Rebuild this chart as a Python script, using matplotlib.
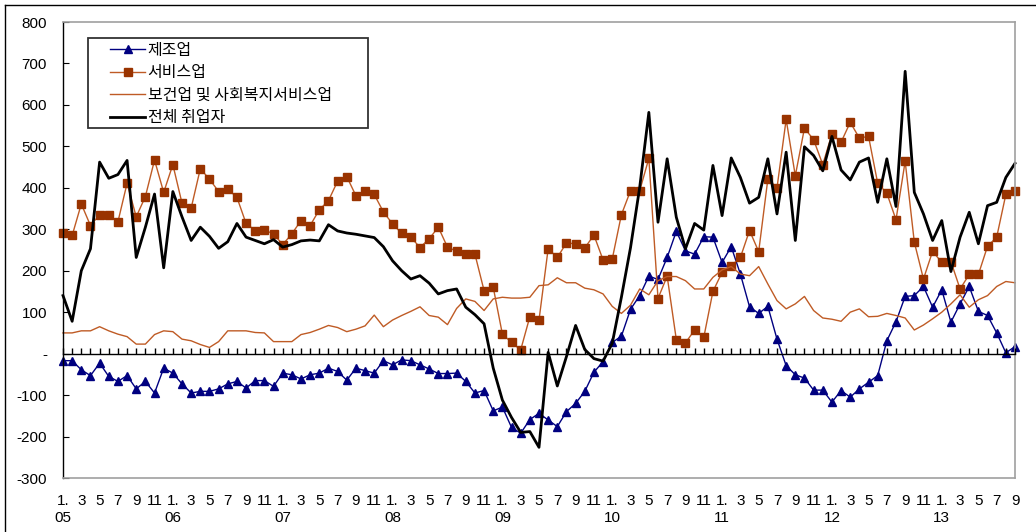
import matplotlib
matplotlib.use("Agg")
import matplotlib.pyplot as plt
from matplotlib.lines import Line2D
from matplotlib.patches import Rectangle

plt.rcParams['font.family'] = ['Liberation Sans', 'Noto Sans CJK KR', 'DejaVu Sans']

# monthly, Jan 2005 .. Sep 2013 (change vs. a year earlier, thousand persons)
years = ["05", "06", "07", "08", "09", "10", "11", "12", "13"]

manufacturing = [
    -17, -17, -39, -53, -23, -55, -67, -53, -85, -67, -95, -35,
    -47, -73, -95, -91, -91, -85, -73, -67, -83, -65, -65, -79,
    -47, -51, -61, -51, -47, -35, -43, -64, -35, -41, -47, -17,
    -27, -15, -17, -27, -37, -48, -48, -47, -67, -95, -89, -138,
    -129, -178, -192, -159, -144, -160, -176, -140, -120, -91, -45, -19,
    27, 42, 107, 140, 187, 179, 232, 295, 248, 240, 282, 281,
    220, 258, 192, 113, 97, 114, 35, -29, -51, -59, -88, -88,
    -117, -89, -105, -85, -69, -53, 31, 77, 138, 140, 162, 112,
    154, 76, 120, 162, 102, 92, 50, 2, 17,
]
services = [
    290, 285, 361, 309, 335, 335, 318, 411, 330, 379, 467, 389,
    456, 363, 351, 446, 421, 391, 397, 377, 314, 297, 298, 289,
    263, 289, 321, 309, 347, 369, 416, 427, 381, 392, 384, 342,
    313, 290, 281, 256, 277, 305, 257, 247, 240, 240, 152, 160,
    47, 27, 9, 89, 81, 253, 232, 267, 265, 255, 286, 226,
    228, 335, 393, 393, 471, 133, 187, 34, 26, 57, 39, 150,
    196, 212, 232, 297, 246, 421, 400, 565, 429, 544, 516, 456,
    530, 510, 558, 520, 524, 411, 387, 323, 464, 269, 180, 247,
    220, 222, 156, 191, 191, 259, 281, 384, 393,
]
health = [
    50, 50, 55, 55, 65, 55, 47, 41, 23, 23, 46, 55,
    53, 35, 31, 22, 15, 29, 55, 55, 55, 51, 50, 29,
    29, 29, 46, 51, 59, 68, 63, 53, 59, 67, 93, 65,
    81, 92, 102, 113, 92, 88, 70, 109, 132, 126, 104, 132,
    136, 134, 134, 136, 164, 166, 183, 171, 171, 158, 154, 144,
    114, 97, 117, 156, 142, 176, 186, 186, 176, 156, 156, 184,
    202, 210, 192, 188, 210, 168, 128, 108, 120, 138, 104, 86,
    83, 78, 100, 108, 89, 90, 97, 92, 86, 57, 69, 84,
    100, 120, 142, 112, 130, 140, 162, 174, 171,
]
total = [
    140, 78, 200, 253, 462, 423, 432, 466, 232, 305, 385, 207,
    391, 330, 273, 305, 283, 254, 270, 314, 281, 273, 265, 275,
    257, 263, 272, 274, 272, 311, 296, 291, 288, 284, 280, 258,
    224, 200, 180, 188, 170, 144, 152, 156, 112, 94, 72, -35,
    -112, -154, -190, -188, -226, 3, -78, -7, 68, 10, -12, -18,
    25, 136, 256, 401, 582, 317, 470, 329, 253, 314, 298, 454,
    333, 472, 425, 363, 377, 470, 337, 486, 273, 499, 478, 441,
    524, 443, 419, 462, 472, 365, 470, 355, 681, 389, 337, 273,
    321, 198, 281, 341, 265, 357, 365, 425, 459,
]
names = ["제조업", "서비스업", "보건업 및 사회복지서비스업", "전체 취업자"]

yticks = [-300, -200, -100, 0, 100, 200, 300, 400, 500, 600, 700, 800]
ylabels = ["-300", "-200", "-100", "-", "100", "200", "300", "400", "500", "600", "700", "800"]

x = list(range(len(total)))
xlabels = []
for i in x:
    m = i % 12 + 1
    if m == 1:
        xlabels.append("1.\n" + years[i // 12])
    elif m % 2 == 1:
        xlabels.append(str(m))
    else:
        xlabels.append("")

W, H = 1036, 532
fig = plt.figure(figsize=(W / 100, H / 100), dpi=100)
ax = fig.add_axes([63 / W, 1 - 478 / H, (1015 - 63) / W, (478 - 22) / H])

ax.plot(x, manufacturing, color="#000080", lw=1, marker="^", ms=5.5, clip_on=False)
ax.plot(x, services, color="#BF5B25", lw=1, marker="s", ms=6,
        mfc="#993300", mec="#993300", clip_on=False)
ax.plot(x, health, color="#BF5B25", lw=1, clip_on=False)
ax.plot(x, total, color="black", lw=2, clip_on=False)

ax.set_xlim(0, len(x) - 1)
ax.set_ylim(-300, 800)
ax.set_yticks(yticks)
ax.set_yticklabels(ylabels)
ax.set_xticks(x)
ax.set_xticklabels(xlabels, linespacing=1.25)
ax.tick_params(axis="y", direction="in", length=4, pad=11.5, labelsize=11)
ax.tick_params(axis="x", length=0, pad=11.5, labelsize=11)
for s in ["top", "right", "bottom"]:
    ax.spines[s].set_color("#a0a0a0")
    ax.spines[s].set_linewidth(1.2)
ax.spines["left"].set_color("black")
ax.spines["left"].set_linewidth(1)

# category axis crossing at zero, monthly tick marks pointing up
ax2 = ax.twiny()
ax2.set_xlim(ax.get_xlim())
ax2.xaxis.set_ticks_position("bottom")
ax2.spines["bottom"].set_position(("data", 0))
for s in ["top", "right", "left"]:
    ax2.spines[s].set_visible(False)
ax2.spines["bottom"].set_linewidth(1)
ax2.set_xticks(x)
ax2.tick_params(axis="x", direction="in", length=4, width=1,
                labelbottom=False, labeltop=False)

handles = [
    Line2D([], [], color="#000080", lw=1, marker="^", ms=5.5),
    Line2D([], [], color="#BF5B25", lw=1, marker="s", ms=6, mfc="#993300", mec="#993300"),
    Line2D([], [], color="#BF5B25", lw=1),
    Line2D([], [], color="black", lw=2),
]
fig.legend(handles, names, loc="upper left", bbox_to_anchor=(110 / W, 1 - 42 / H),
           frameon=False, borderpad=0, borderaxespad=0, handlelength=2.2,
           handletextpad=0.15, labelspacing=0.34,
           prop={"family": ["Noto Sans CJK KR"], "size": 11.5})
fig.add_artist(Rectangle((88 / W, 1 - 128 / H), (368 - 88) / W, 90 / H,
                         transform=fig.transFigure, fill=False,
                         ec="#333333", lw=1.3))

# outer chart border
fig.add_artist(Line2D([5 / W, 1], [1 - 5 / H, 1 - 5 / H], transform=fig.transFigure,
                      color="black", lw=1))
fig.add_artist(Line2D([5 / W, 5 / W], [0, 1 - 5 / H], transform=fig.transFigure,
                      color="black", lw=1))

fig.savefig("out.png", dpi=100)
